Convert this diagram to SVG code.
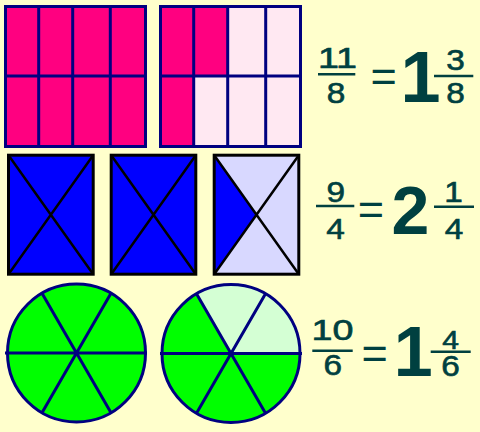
<svg xmlns="http://www.w3.org/2000/svg" width="480" height="432" viewBox="0 0 480 432">
<style>
.bg{fill:#FFFFCC}
.grid{stroke:#000080;stroke-width:3;fill:none}
.pk{fill:#FF0080}
.lp{fill:#FFE8F2}
.bx{stroke:#000000;stroke-width:3;fill:none}
.dg{stroke:#000000;stroke-width:2.5}
.bl{fill:#0000FF}
.lb{fill:#D8D8FF}
.gr{fill:#00FF00}
.lg{fill:#D4FFD4}
.cl{stroke:#000080;stroke-width:3;fill:none}
.t{font-family:"Liberation Sans",Arial,sans-serif;fill:#004040;text-anchor:middle}
.s{font-size:29px;stroke:#004040;stroke-width:0.6}
.eq{font-size:45px}
.big{font-size:72px;font-weight:bold}
.bar{stroke:#004040;stroke-width:2.5}
</style>
<rect class="bg" x="0" y="0" width="480" height="432"/>

<g id="rect-eighths-full">
<rect class="pk" x="5.5" y="6.5" width="140" height="140"/>
<rect class="grid" x="5.5" y="6.5" width="140" height="140"/>
<path class="grid" d="M38.7 6.5V146.5M72.7 6.5V146.5M110.3 6.5V146.5M5.5 76H145.5"/>
</g>

<g id="rect-eighths-partial">
<rect class="lp" x="160.5" y="6.5" width="140" height="140"/>
<rect class="pk" x="160.5" y="6.5" width="67.2" height="69.5"/>
<rect class="pk" x="160.5" y="76" width="33.2" height="70.5"/>
<rect class="grid" x="160.5" y="6.5" width="140" height="140"/>
<path class="grid" d="M193.7 6.5V146.5M227.7 6.5V146.5M265.7 6.5V146.5M160.5 76H300.5"/>
</g>

<g id="box-quarters-1">
<rect class="bl" x="8.5" y="155.2" width="84.7" height="119"/>
<path class="dg" d="M8.5 155.2L93.2 274.2M93.2 155.2L8.5 274.2"/>
<rect class="bx" x="8.5" y="155.2" width="84.7" height="119"/>
</g>

<g id="box-quarters-2">
<rect class="bl" x="111.2" y="155.2" width="84.6" height="119"/>
<path class="dg" d="M111.2 155.2L195.8 274.2M195.8 155.2L111.2 274.2"/>
<rect class="bx" x="111.2" y="155.2" width="84.6" height="119"/>
</g>

<g id="box-quarters-3">
<rect class="lb" x="214.2" y="155.2" width="84.6" height="119"/>
<path class="bl" d="M214.2 155.2L256.5 214.7L214.2 274.2Z"/>
<path class="dg" d="M214.2 155.2L298.8 274.2M298.8 155.2L214.2 274.2"/>
<rect class="bx" x="214.2" y="155.2" width="84.6" height="119"/>
</g>

<g id="circle-sixths-full">
<circle class="gr" cx="76.5" cy="353" r="69"/>
<path class="cl" d="M5 353H147M42 293.2L111 412.8M111 293.2L42 412.8"/>
<circle class="cl" cx="76.5" cy="353" r="69"/>
</g>

<g id="circle-sixths-partial">
<circle class="gr" cx="231" cy="353.5" r="69"/>
<path class="lg" d="M231 353.5L300 353.5A69 69 0 0 0 196.5 293.7Z"/>
<path class="cl" d="M160 353.5H302M196.5 293.7L265.5 413.3M265.5 293.7L196.5 413.3"/>
<circle class="cl" cx="231" cy="353.5" r="69"/>
</g>

<g id="eq-row1">
<text class="t s" transform="translate(337.5,68) scale(1.3,1)">11</text>
<line class="bar" x1="318" y1="74.3" x2="355.3" y2="74.3"/>
<text class="t s" transform="translate(336,102.7) scale(1.15,1)">8</text>
<text class="t eq" x="383.7" y="91">=</text>
<text class="t big" x="420.5" y="101.7">1</text>
<text class="t s" transform="translate(455.5,70) scale(1.15,1)">3</text>
<line class="bar" x1="434" y1="76" x2="473.3" y2="76"/>
<text class="t s" transform="translate(455.5,102.7) scale(1.15,1)">8</text>
</g>

<g id="eq-row2">
<text class="t s" transform="translate(335.7,202) scale(1.15,1)">9</text>
<line class="bar" x1="316" y1="206" x2="354.3" y2="206"/>
<text class="t s" transform="translate(335.5,238.5) scale(1.15,1)">4</text>
<text class="t eq" x="370.8" y="223.5">=</text>
<text class="t big" x="410.5" y="234" style="font-size:68px">2</text>
<text class="t s" transform="translate(453.5,202) scale(1.15,1)">1</text>
<line class="bar" x1="434" y1="206.7" x2="474" y2="206.7"/>
<text class="t s" transform="translate(454,239.3) scale(1.15,1)">4</text>
</g>

<g id="eq-row3">
<text class="t s" transform="translate(332.5,340) scale(1.3,1)">10</text>
<line class="bar" x1="312.3" y1="350.7" x2="352.7" y2="350.7"/>
<text class="t s" transform="translate(332.7,375) scale(1.15,1)">6</text>
<text class="t eq" x="374.6" y="367.5">=</text>
<text class="t big" x="413.3" y="376" style="font-size:70px">1</text>
<text class="t s" style="font-size:25px" transform="translate(450.5,348.5) scale(1.2,1)">4</text>
<line class="bar" x1="430.7" y1="351.7" x2="470.7" y2="351.7"/>
<text class="t s" transform="translate(450.5,376) scale(1.15,1)">6</text>
</g>
</svg>
